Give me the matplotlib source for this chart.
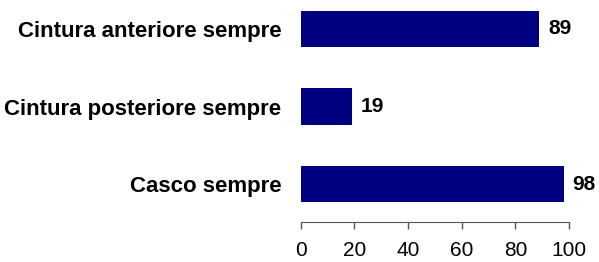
import matplotlib
matplotlib.use("Agg")
import matplotlib.pyplot as plt

# -- Data ---------------------------------------------------------------------
categories = ["Casco sempre", "Cintura posteriore sempre", "Cintura anteriore sempre"]
values     = [98, 19, 89]
xticks     = [0, 20, 40, 60, 80, 100]

BAR_COLOR = "#000080"
FONT      = "Liberation Sans"

W, H = 599, 262
fig = plt.figure(figsize=(W / 100, H / 100), dpi=100)
ax = fig.add_axes([300.7 / W, 1 - 222 / H, (569 - 300.7) / W, 222 / H])

ypos = list(range(len(categories)))
ax.barh(ypos, values, height=0.465, color=BAR_COLOR)

ax.set_xlim(0, 100)
ax.set_ylim(-0.49, 2.374)

for y, v in zip(ypos, values):
    ax.text(v + 3.3, y, str(v), ha="left", va="center",
            fontsize=15, fontweight="bold", family=FONT, color="black")

ax.set_yticks(ypos)
ax.set_yticklabels(categories, fontsize=16, fontweight="bold", family=FONT)
ax.tick_params(axis="y", length=0, pad=14)

ax.set_xticks(xticks)
ax.set_xticklabels([str(t) for t in xticks], fontsize=15, family=FONT)
ax.tick_params(axis="x", length=5, width=1, color="#555555", pad=9)

for s in ("top", "right", "left"):
    ax.spines[s].set_visible(False)
ax.spines["bottom"].set_color("#555555")

fig.savefig("out.png", dpi=100)
